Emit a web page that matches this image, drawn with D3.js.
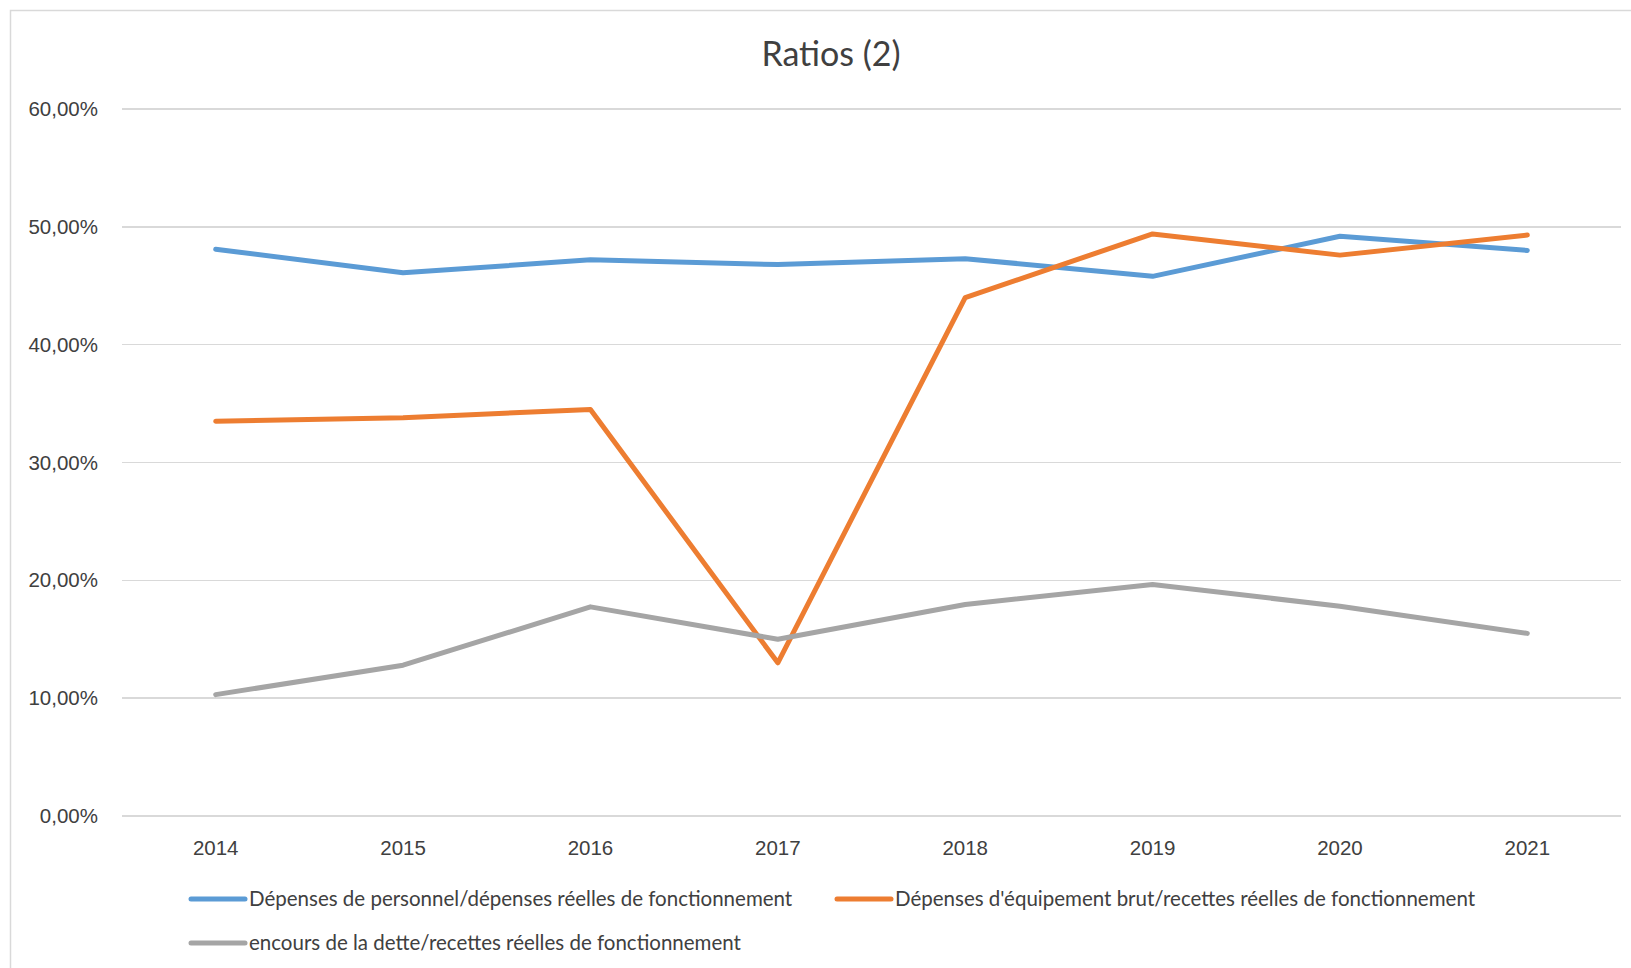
<!DOCTYPE html>
<html lang="fr">
<head>
<meta charset="UTF-8">
<title>Ratios (2)</title>
<script src="https://d3js.org/d3.v7.min.js"></script>
<style>
  body { margin: 0; background: #fff; }
  svg { font-family: Lato, "Open Sans", sans-serif; }
  .grid line { stroke: #d9d9d9; stroke-width: 1.5; shape-rendering: crispEdges; }
  .tick text { fill: #404040; }
</style>
</head>
<body>
<div id="chart"></div>
<script>
// data
var years = ["2014", "2015", "2016", "2017", "2018", "2019", "2020", "2021"];
var seriesNames = [
  "Dépenses de personnel/dépenses réelles de fonctionnement",
  "Dépenses d'équipement brut/recettes réelles de fonctionnement",
  "encours de la dette/recettes réelles de fonctionnement"
];
var personnel = [0.481, 0.461, 0.472, 0.468, 0.473, 0.458, 0.492, 0.480];
var equipement = [0.335, 0.338, 0.345, 0.130, 0.440, 0.494, 0.476, 0.493];
var dette = [0.103, 0.128, 0.1775, 0.150, 0.1795, 0.1965, 0.178, 0.155];
var yTicks = [0, 0.1, 0.2, 0.3, 0.4, 0.5, 0.6];
var colors = ["#5b9bd5", "#ed7d31", "#a5a5a5"];

var W = 1631, H = 968;
var margin = {top: 109, right: 10, bottom: 152, left: 122};
var width = 1621 - margin.left, height = 816 - margin.top;

var svg = d3.select("#chart").append("svg")
  .attr("width", W).attr("height", H);

// chart frame
svg.append("rect")
  .attr("x", 10.5).attr("y", 10.5)
  .attr("width", W).attr("height", H)
  .attr("fill", "#fff").attr("stroke", "#d9d9d9").attr("stroke-width", 1.5);

svg.append("text")
  .attr("x", 831).attr("y", 54)
  .attr("text-anchor", "middle").attr("dy", "0.35em")
  .attr("fill", "#404040").style("font-size", "34px")
  .text("Ratios (2)");

var g = svg.append("g").attr("transform", "translate(" + margin.left + "," + margin.top + ")");

var x = d3.scaleBand().domain(years).range([0, width]);
var y = d3.scaleLinear().domain([0, 0.6]).range([height, 0]);

var fmt = function(v) { return d3.format(".2f")(v * 100).replace(".", ",") + "%"; };

// gridlines
g.append("g").attr("class", "grid")
  .selectAll("line").data(yTicks).enter().append("line")
  .attr("x1", 0).attr("x2", width)
  .attr("y1", function(d) { return y(d); }).attr("y2", function(d) { return y(d); });

// y axis labels
var yAxis = g.append("g")
  .call(d3.axisLeft(y).tickValues(yTicks).tickFormat(fmt).tickSize(0).tickPadding(24));
yAxis.select(".domain").remove();
yAxis.selectAll("text").style("font-size", "20.5px");

// x axis labels
var xAxis = g.append("g").attr("transform", "translate(0," + height + ")")
  .call(d3.axisBottom(x).tickSize(0).tickPadding(24));
xAxis.select(".domain").remove();
xAxis.selectAll("text").style("font-size", "20.5px");

var line = d3.line()
  .x(function(d, i) { return x(years[i]) + x.bandwidth() / 2; })
  .y(function(d) { return y(d); });

var allSeries = [personnel, equipement, dette];
g.selectAll(".series").data(allSeries).enter().append("path")
  .attr("class", "series")
  .attr("d", line)
  .attr("fill", "none")
  .attr("stroke", function(d, i) { return colors[i]; })
  .attr("stroke-width", 5)
  .attr("stroke-linejoin", "round")
  .attr("stroke-linecap", "round");

// legend
var legendPos = [[191, 899], [837, 899], [191, 943]];
var legend = svg.selectAll(".legend").data(seriesNames).enter().append("g")
  .attr("class", "legend")
  .attr("transform", function(d, i) { return "translate(" + legendPos[i][0] + "," + legendPos[i][1] + ")"; });
legend.append("line")
  .attr("x1", 0).attr("x2", 54).attr("y1", 0).attr("y2", 0)
  .attr("stroke", function(d, i) { return colors[i]; })
  .attr("stroke-width", 5).attr("stroke-linecap", "round");
legend.append("text")
  .attr("x", 58).attr("dy", "0.35em")
  .attr("fill", "#404040").style("font-size", "20.5px")
  .text(function(d) { return d; });
</script>
</body>
</html>
